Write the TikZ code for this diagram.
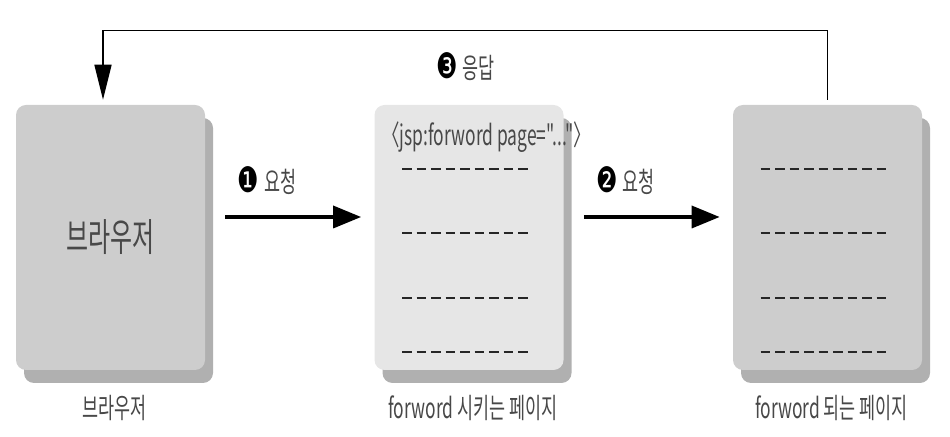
\documentclass[tikz,border=0pt]{standalone}
\usepackage{fontspec}
\usetikzlibrary{positioning,shadows,arrows.meta}
\newfontfamily\krfont[FakeStretch=0.62]{Noto Sans CJK KR}
\newfontfamily\numfont[FakeStretch=0.68]{DejaVu Sans}
\definecolor{pagegray}{HTML}{CDCDCD}
\definecolor{pagelight}{HTML}{E6E6E6}
\definecolor{pageshade}{HTML}{B0B0B0}
\definecolor{inkgray}{HTML}{484848}
\newcommand{\stepnum}[1]{{\numfont\fontsize{20}{20}\selectfont\color{black}#1}}
\begin{document}
\begin{tikzpicture}[
  page/.style={rounded corners=0.2cm,minimum width=3.78cm,minimum height=5.3cm,inner sep=0pt,
    fill=pagegray,drop shadow={shadow xshift=0.16cm,shadow yshift=-0.26cm,fill=pageshade,opacity=1}},
  caption/.style={font=\krfont\fontsize{16}{19}\selectfont,text=inkgray},
  dashline/.style={line width=1.7pt,dash pattern=on 0.19cm off 0.1cm,color=black!85},
  reqarrow/.style={line width=2pt,-{Triangle[length=0.56cm,width=0.44cm]}},
  resparrow/.style={line width=0.9pt,-{Triangle[length=0.7cm,width=0.34cm]}}]
\useasboundingbox (0,0) rectangle (19,8.72);
\node[page,font=\krfont\fontsize{22}{26}\selectfont,text=inkgray] (browser) at (2.21,3.97) {브라우저};
\node[page,fill=pagelight] (fwd) at (9.38,3.97) {};
\node[page] (target) at (16.55,3.97) {};
\node[caption,anchor=west] (jsptag) at ([shift={(0.04,-0.64)}]fwd.north west) {〈jsp:forword page="..."〉};
\foreach \dy in {1.37,0.09,-1.21,-2.29} {
  \draw[dashline] ([shift={(-1.34,\dy)}]fwd.center) -- ++(2.51,0);
  \draw[dashline] ([shift={(-1.34,\dy)}]target.center) -- ++(2.51,0);
}

\draw[reqarrow] ([shift={(0.4,0.41)}]browser.east) -- ([shift={(-0.26,0.41)}]fwd.west)
  node[caption,pos=0,anchor=south west,xshift=0.1cm,yshift=0.3cm] (req1) {\stepnum{❶}\,요청};
\draw[reqarrow] ([shift={(0.4,0.41)}]fwd.east) -- ([shift={(-0.26,0.41)}]target.west)
  node[caption,pos=0,anchor=south west,xshift=0.1cm,yshift=0.3cm] (req2) {\stepnum{❷}\,요청};

\coordinate (turn) at ([xshift=-0.15cm,yshift=1.48cm]browser.north);
\draw[resparrow] ([yshift=0.1cm]target.north) |- (turn)
  node[caption,pos=0.75,below=0.3cm] (resp) {\stepnum{❸}\,응답} -- ([xshift=-0.15cm,yshift=0.1cm]browser.north);

\node[caption,below=0.38cm of browser,xshift=0.08cm] (browsercap) {브라우저};
\node[caption,below=0.38cm of fwd,xshift=0.08cm] (fwdcap) {forword 시키는 페이지};
\node[caption,below=0.38cm of target,xshift=0.08cm] (targetcap) {forword 되는 페이지};
\end{tikzpicture}
\end{document}
